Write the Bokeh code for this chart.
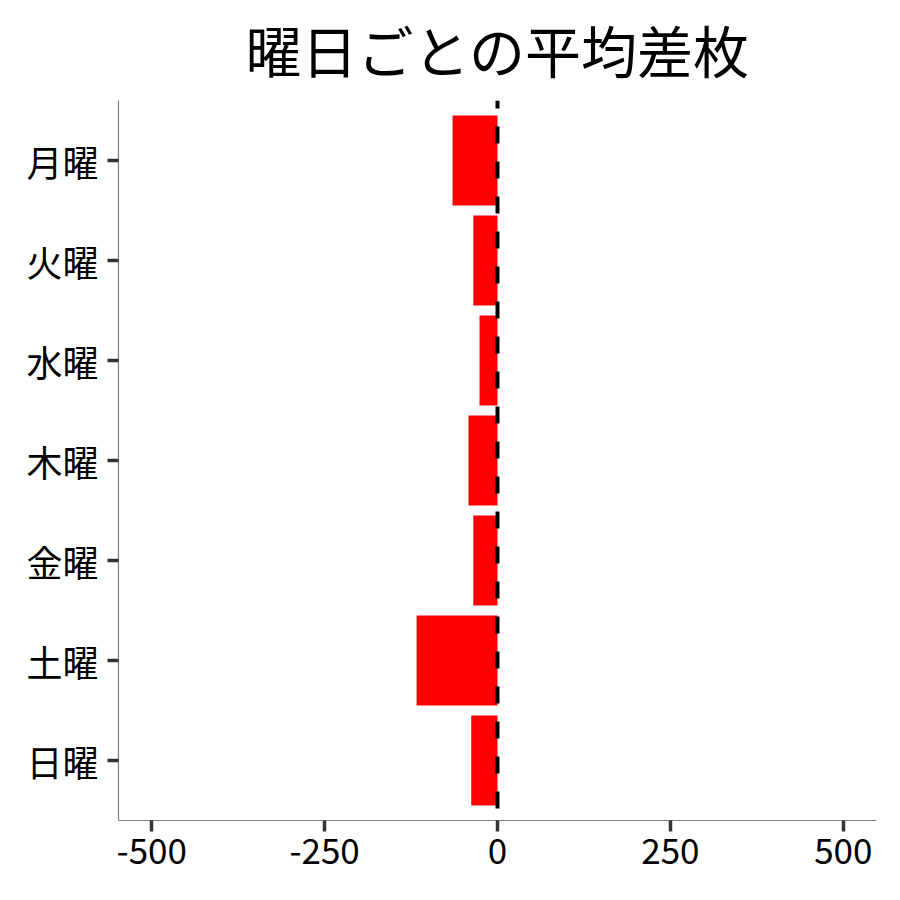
from bokeh.plotting import figure
from bokeh.models import FactorRange, Range1d, Span, FixedTicker
from bokeh.embed import file_html
from bokeh.resources import INLINE

title_text = "曜日ごとの平均差枚"
days = ["月曜", "火曜", "水曜", "木曜", "金曜", "土曜", "日曜"]
avg_diff = [-65, -35, -26, -42, -35, -117, -38]
x_ticks = [-500, -250, 0, 250, 500]
x_tick_labels = ["-500", "-250", "0", "250", "500"]

FONT = "Noto Sans CJK JP"

factors = list(reversed(days))
p = figure(
    y_range=FactorRange(factors=factors, range_padding=0.2 / 7),
    x_range=Range1d(-548, 548),
    frame_width=758, frame_height=720,
    min_border_left=118, min_border_right=16,
    min_border_top=100, min_border_bottom=64,
    output_backend="svg", toolbar_location=None,
    title=title_text,
)
p.hbar(y=days, right=avg_diff, left=0, height=0.9, fill_color="#ff0000", line_color=None)

p.add_layout(Span(location=0, dimension="height", line_color="black",
                  line_width=4, line_dash="17 18", line_dash_offset=9))

p.title.text_font = "Lato, Noto Sans CJK JP"
p.title.text_font_size = "56px"
p.title.text_font_style = "normal"
p.title.align = "center"
p.title.text_color = "black"
p.title.standoff = 31

p.xgrid.visible = False
p.ygrid.visible = False
p.outline_line_color = None
p.background_fill_color = "white"
p.border_fill_color = "white"

p.xaxis.ticker = FixedTicker(ticks=x_ticks)
p.xaxis.major_label_overrides = dict(zip(x_ticks, x_tick_labels))
for ax in (p.xaxis, p.yaxis):
    ax.axis_line_color = "#808080"
    ax.axis_line_width = 1.2
    ax.major_tick_line_color = "#333333"
    ax.major_tick_line_width = 3.5
    ax.major_tick_out = 11
    ax.major_tick_in = 0
    ax.minor_tick_line_color = None
    ax.major_label_text_font = FONT
    ax.major_label_text_color = "black"
p.xaxis.major_label_text_font_size = "35px"
p.yaxis.major_label_text_font_size = "36px"
p.xaxis.major_label_standoff = 6
p.yaxis.major_label_standoff = 9

open("out.html", "w").write(file_html(p, INLINE))
